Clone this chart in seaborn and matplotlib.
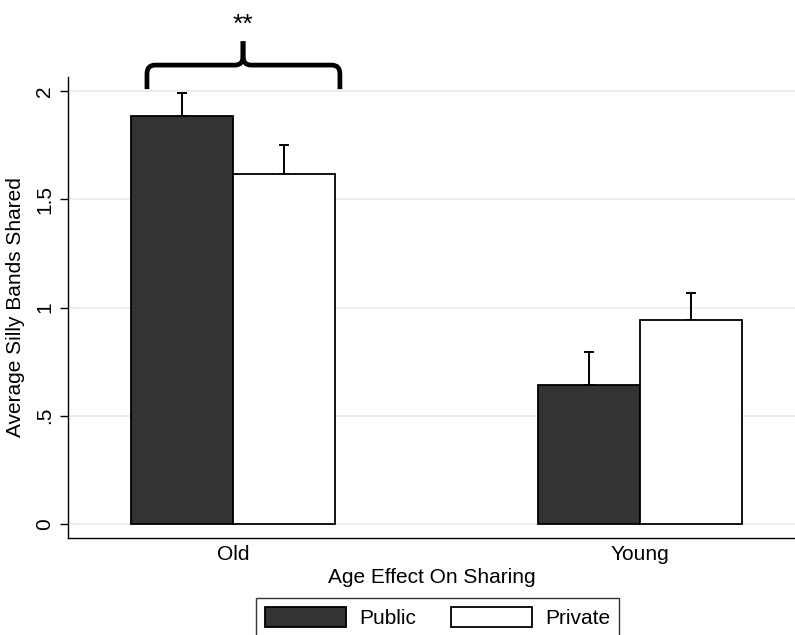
import matplotlib
matplotlib.use("Agg")
import matplotlib.pyplot as plt
import seaborn as sns
import pandas as pd
import numpy as np
from matplotlib.path import Path
from matplotlib.patches import PathPatch, Patch

# ---- data ----
categories = ["Old", "Young"]
groups = ["Public", "Private"]
public_means = [1.885, 0.644]
private_means = [1.616, 0.943]
public_err = [0.104, 0.152]
private_err = [0.134, 0.123]
yticks = [0, 0.5, 1, 1.5, 2]
ytick_labels = ["0", ".5", "1", "1.5", "2"]
sig_label = "**"

df = pd.DataFrame({
    "Age": categories * 2,
    "Group": ["Public"] * 2 + ["Private"] * 2,
    "Mean": public_means + private_means,
})
errors = {"Public": public_err, "Private": private_err}

sns.set_theme(style="white")
plt.rcParams["font.family"] = ["Liberation Sans", "DejaVu Sans"]
plt.rcParams["text.color"] = "black"
plt.rcParams["axes.labelcolor"] = "black"
plt.rcParams["xtick.color"] = "black"
plt.rcParams["ytick.color"] = "black"
FS = 15

fig = plt.figure(figsize=(7.95, 6.35), dpi=100)
ax = fig.add_axes([68/795, 1-538/635, 1-68/795, (538-77)/635])

palette = {"Public": "#333333", "Private": "#ffffff"}
sns.barplot(data=df, x="Age", y="Mean", hue="Group", order=categories,
            hue_order=groups, palette=palette, width=0.5, gap=0,
            edgecolor="black", linewidth=1.3, errorbar=None, ax=ax,
            legend=False, saturation=1, zorder=3)

for grp, cont in zip(groups, ax.containers):
    xs = [p.get_x() + p.get_width()/2 for p in cont.patches]
    hs = [p.get_height() for p in cont.patches]
    err = errors[grp]
    ax.errorbar(xs, hs, yerr=[np.zeros(len(err)), err], fmt="none",
                ecolor="black", elinewidth=1.4, capsize=3.6, capthick=1.4,
                zorder=2)

ax.set_xlim(-0.405, 1.381)
ax.set_ylim(-0.065, 2.065)
ax.set_yticks(yticks)
ax.set_yticklabels(ytick_labels, rotation=90, va="center", fontsize=FS)
ax.tick_params(axis="y", length=6, width=1, color="black", pad=4, left=True,
               labelcolor="black")
ax.tick_params(axis="x", length=0, pad=5, labelsize=FS, labelcolor="black")
ax.yaxis.grid(True, color="#e4eef0", linewidth=1.3, zorder=0)
ax.set_axisbelow(True)
for s in ["top", "right"]:
    ax.spines[s].set_visible(False)
for s in ["left", "bottom"]:
    ax.spines[s].set_color("black")
    ax.spines[s].set_linewidth(1.0)
ax.set_xlabel("Age Effect On Sharing", fontsize=FS, labelpad=3, color="black")
ax.set_ylabel("Average Silly Bands Shared", fontsize=FS, labelpad=7,
              color="black")

# ---- significance brace ----
xl, xr, xm = -0.211, 0.263, 0.025
y0, yh, ytip = 2.009, 2.12, 2.23
dx, dy = 0.02, 0.04
verts = [
    (xl, y0), (xl, yh - dy), (xl, yh), (xl + dx, yh),
    (xm - dx, yh), (xm, yh), (xm, yh + dy), (xm, ytip),
]
codes = [Path.MOVETO, Path.LINETO, Path.CURVE3, Path.CURVE3,
         Path.LINETO, Path.CURVE3, Path.CURVE3, Path.LINETO]
verts2 = [
    (xr, y0), (xr, yh - dy), (xr, yh), (xr - dx, yh),
    (xm + dx, yh), (xm, yh), (xm, yh + dy), (xm, ytip),
]
for v in (verts, verts2):
    pp = PathPatch(Path(v, codes), facecolor="none", edgecolor="black",
                   linewidth=3.4, clip_on=False, capstyle="butt",
                   joinstyle="round", zorder=5)
    ax.add_patch(pp)
ax.text(xm, 2.305, sig_label, ha="center", va="center", fontsize=19,
        clip_on=False, color="black")

# ---- legend ----
handles = [Patch(facecolor=palette[g], edgecolor="black", linewidth=1.3)
           for g in groups]
leg = fig.legend(handles, groups, loc="upper center",
                 bbox_to_anchor=(437.5/795, 1-598/635), ncol=2,
                 fontsize=FS, frameon=True, fancybox=False,
                 handlelength=3.9, handleheight=1.05, handletextpad=0.6,
                 columnspacing=1.7, borderpad=0.45, borderaxespad=0)
leg.get_frame().set_edgecolor("black")
leg.get_frame().set_linewidth(1.0)
for t in leg.get_texts():
    t.set_color("black")

fig.savefig("out.png", dpi=100)
